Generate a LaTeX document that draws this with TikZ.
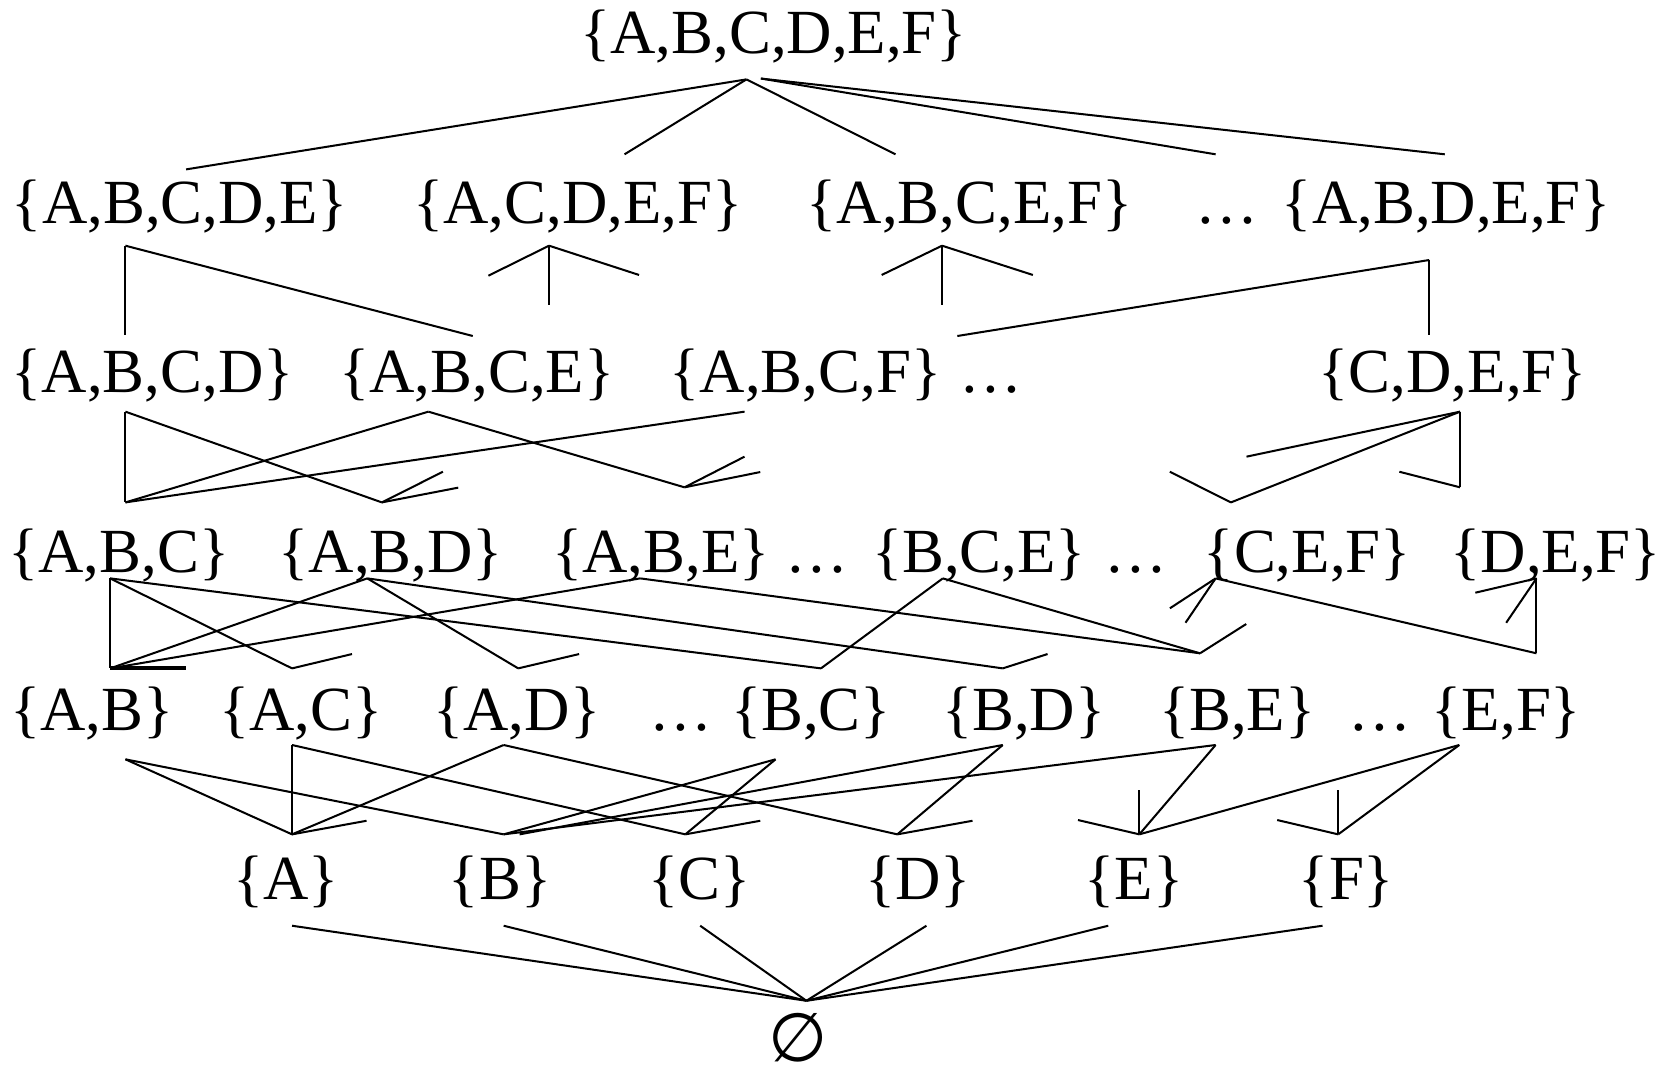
\documentclass[tikz,border=0pt]{standalone}
\usepackage{fontspec}
\setmainfont{Liberation Serif}
\newfontfamily\symfam{DejaVu Sans}
\begin{document}
\begin{tikzpicture}[x=0.5pt,y=-0.5pt,
  lbl/.style={anchor=base,inner sep=0pt,font=\fontsize{29.6}{36}\selectfont},
  ln/.style={line width=0.95pt},
  thk/.style={line width=1.9pt}]
\useasboundingbox (0,0) rectangle (1568,1009);
% ---- labels ----
\node[lbl] (s0) at (729,50) {\{A,B,C,D,E,F\}};
\node[lbl] (s1a) at (169.6,211) {\{A,B,C,D,E\}};
\node[lbl] (s1b) at (544.4,211) {\{A,C,D,E,F\}};
\node[lbl] (s1c) at (913.6,211) {\{A,B,C,E,F\}};
\node[lbl] (s1d) at (1156.5,211) {…};
\node[lbl] (s1e) at (1363,211) {\{A,B,D,E,F\}};
\node[lbl] (s2a) at (143.9,370) {\{A,B,C,D\}};
\node[lbl] (s2b) at (449.4,370) {\{A,B,C,E\}};
\node[lbl] (s2c) at (759,370) {\{A,B,C,F\}};
\node[lbl] (s2d) at (933.8,370) {…};
\node[lbl] (s2f) at (1369,370) {\{C,D,E,F\}};
\node[lbl] (s3a) at (112,539) {\{A,B,C\}};
\node[lbl] (s3b) at (368.4,539) {\{A,B,D\}};
\node[lbl] (s3c) at (622.8,539) {\{A,B,E\}};
\node[lbl] (s3d) at (770.2,539) {…};
\node[lbl] (s3e) at (922.5,539) {\{B,C,E\}};
\node[lbl] (s3f) at (1070,539) {…};
\node[lbl] (s3g) at (1231.9,539) {\{C,E,F\}};
\node[lbl] (s3h) at (1466,539) {\{D,E,F\}};
\node[lbl] (s4a) at (86.5,688.5) {\{A,B\}};
\node[lbl] (s4b) at (283.6,688.5) {\{A,C\}};
\node[lbl] (s4c) at (487,688.5) {\{A,D\}};
\node[lbl] (s4d) at (641.7,688.5) {…};
\node[lbl] (s4e) at (764.2,688.5) {\{B,C\}};
\node[lbl] (s4f) at (964.6,688.5) {\{B,D\}};
\node[lbl] (s4g) at (1165.9,688.5) {\{B,E\}};
\node[lbl] (s4x) at (1300.4,688.5) {…};
\node[lbl] (s4h) at (1419.5,688.5) {\{E,F\}};
\node[lbl] (s5a) at (269.8,848) {\{A\}};
\node[lbl] (s5b) at (471.2,848) {\{B\}};
\node[lbl] (s5c) at (658.8,848) {\{C\}};
\node[lbl] (s5d) at (865.2,848) {\{D\}};
\node[lbl] (s5e) at (1068.7,848) {\{E\}};
\node[lbl] (s5f) at (1268.8,848) {\{F\}};
\node[lbl,font=\symfam\fontsize{32}{36}\selectfont] (s6) at (752.2,1000) {∅};
% ---- connector points ----
\coordinate (t1) at (703.4,74.8);
\coordinate (t2) at (717,74);
\coordinate (u1a) at (175.4,159.6);
\coordinate (u1b) at (588.5,145.4);
\coordinate (u1c) at (843.8,145.4);
\coordinate (u1d) at (1145.5,145.4);
\coordinate (u1e) at (1361.4,145.4);
\coordinate (b1a) at (118.2,231.5);
\coordinate (b1b) at (517.4,231.5);
\coordinate (b1c) at (887.7,231.5);
\coordinate (b1e) at (1346.7,245);
\coordinate (u2a) at (118.2,315.7);
\coordinate (u2b) at (445.5,316.6);
\coordinate (v1b) at (517.4,287.4);
\coordinate (w1bl) at (460.2,259.8);
\coordinate (w1br) at (602.2,259.1);
\coordinate (v1c) at (887.7,287.4);
\coordinate (w1cl) at (830.8,259.1);
\coordinate (w1cr) at (973.3,259.1);
\coordinate (u2c) at (902.1,316.6);
\coordinate (u2f) at (1346.7,315.7);
\coordinate (b2a) at (118.2,387.9);
\coordinate (b2b) at (403.7,387.9);
\coordinate (b2c) at (701.6,387.9);
\coordinate (b2f) at (1375.8,387.9);
\coordinate (c3a) at (118.2,473.4);
\coordinate (c3b) at (359.8,473.4);
\coordinate (c3c) at (645,459.2);
\coordinate (c3g) at (1159.9,473.4);
\coordinate (c3h) at (1375.8,459.2);
\coordinate (w3b1) at (417.4,444.5);
\coordinate (w3b2) at (431.8,459.5);
\coordinate (w3c1) at (701.6,430.3);
\coordinate (w3c2) at (716.4,444.8);
\coordinate (w2f) at (1174.6,430.3);
\coordinate (w3g) at (1102.3,444.5);
\coordinate (w3h) at (1318.6,444.5);
\coordinate (b3a) at (103.8,545);
\coordinate (b3b) at (346.1,545);
\coordinate (b3c) at (603.3,545);
\coordinate (b3e) at (888.4,545);
\coordinate (b3g) at (1145.5,545);
\coordinate (b3h) at (1447.8,545);
\coordinate (c4a) at (103.8,629.8);
\coordinate (c4aa) at (175.4,629.8);
\coordinate (c4b) at (275.2,629.8);
\coordinate (c4c) at (488.3,629.8);
\coordinate (c4e) at (773.6,629.8);
\coordinate (c4f) at (944.9,629.8);
\coordinate (c4g) at (1130.8,615.6);
\coordinate (c4h) at (1447.8,615.6);
\coordinate (w4b) at (331.7,616.3);
\coordinate (w4c) at (545.7,616.3);
\coordinate (w4f) at (987.1,616.3);
\coordinate (w4g) at (1174.3,588);
\coordinate (w3g1) at (1102.4,573.2);
\coordinate (w3g2) at (1117.1,586.8);
\coordinate (w3h1) at (1390.2,558.5);
\coordinate (w3h2) at (1419.3,586.8);
\coordinate (b4a) at (118.2,715.5);
\coordinate (b4b) at (275.2,702);
\coordinate (b4c) at (474.6,702);
\coordinate (b4e) at (730.8,715.5);
\coordinate (b4f) at (944.9,702);
\coordinate (b4g) at (1145.5,702);
\coordinate (b4h) at (1375.1,702);
\coordinate (c5a) at (275.2,786.2);
\coordinate (c5b) at (474.6,786.2);
\coordinate (c5bb) at (489.6,786.2);
\coordinate (c5c) at (645.8,786.2);
\coordinate (c5d) at (845.5,786.2);
\coordinate (c5e) at (1073.6,786.2);
\coordinate (c5f) at (1261,786.2);
\coordinate (w5a) at (345.4,773.4);
\coordinate (w5c) at (716.4,773.4);
\coordinate (w5d) at (916.4,773.4);
\coordinate (w5e1) at (1073.6,744.4);
\coordinate (w5e2) at (1015.8,772.7);
\coordinate (w5f1) at (1261,744.4);
\coordinate (w5f2) at (1203.5,772.7);
\coordinate (b5a) at (275.2,872.3);
\coordinate (b5b) at (474.6,872.3);
\coordinate (b5c) at (659.8,872.3);
\coordinate (b5d) at (873,872.3);
\coordinate (b5e) at (1044.3,872.3);
\coordinate (b5f) at (1246.2,872.3);
\coordinate (e0) at (759.9,943);
% ---- connectors ----
\draw[ln] (t1) -- (u1a);
\draw[ln] (t1) -- (u1b);
\draw[ln] (t1) -- (u1c);
\draw[ln] (t2) -- (u1d);
\draw[ln] (t2) -- (u1e);
\draw[ln] (b1a) -- (u2a);
\draw[ln] (b1a) -- (u2b);
\draw[ln] (b1b) -- (v1b);
\draw[ln] (b1b) -- (w1bl);
\draw[ln] (b1b) -- (w1br);
\draw[ln] (b1c) -- (v1c);
\draw[ln] (b1c) -- (w1cl);
\draw[ln] (b1c) -- (w1cr);
\draw[ln] (b1e) -- (u2c);
\draw[ln] (b1e) -- (u2f);
\draw[ln] (b2a) -- (c3a);
\draw[ln] (b2a) -- (c3b);
\draw[ln] (b2b) -- (c3a);
\draw[ln] (b2b) -- (c3c);
\draw[ln] (b2c) -- (c3a);
\draw[ln] (c3b) -- (w3b1);
\draw[ln] (c3b) -- (w3b2);
\draw[ln] (c3c) -- (w3c1);
\draw[ln] (c3c) -- (w3c2);
\draw[ln] (b2f) -- (w2f);
\draw[ln] (b2f) -- (c3g);
\draw[ln] (b2f) -- (c3h);
\draw[ln] (c3g) -- (w3g);
\draw[ln] (c3h) -- (w3h);
\draw[ln] (b3a) -- (c4a);
\draw[thk] (c4a) -- (c4aa);
\draw[ln] (b3a) -- (c4b);
\draw[ln] (b3a) -- (c4e);
\draw[ln] (c4b) -- (w4b);
\draw[ln] (b3b) -- (c4a);
\draw[ln] (b3b) -- (c4c);
\draw[ln] (b3b) -- (c4f);
\draw[ln] (c4c) -- (w4c);
\draw[ln] (c4f) -- (w4f);
\draw[ln] (b3c) -- (c4a);
\draw[ln] (b3c) -- (c4g);
\draw[ln] (b3e) -- (c4e);
\draw[ln] (b3e) -- (c4g);
\draw[ln] (c4g) -- (w4g);
\draw[ln] (b3g) -- (w3g1);
\draw[ln] (b3g) -- (w3g2);
\draw[ln] (b3g) -- (c4h);
\draw[ln] (b3h) -- (c4h);
\draw[ln] (b3h) -- (w3h1);
\draw[ln] (b3h) -- (w3h2);
\draw[ln] (b4a) -- (c5a);
\draw[ln] (b4a) -- (c5b);
\draw[ln] (b4b) -- (c5a);
\draw[ln] (b4b) -- (c5c);
\draw[ln] (b4c) -- (c5a);
\draw[ln] (b4c) -- (c5d);
\draw[ln] (c5a) -- (w5a);
\draw[ln] (b4e) -- (c5b);
\draw[ln] (b4e) -- (c5c);
\draw[ln] (b4f) -- (c5bb);
\draw[ln] (b4f) -- (c5d);
\draw[ln] (b4g) -- (c5b);
\draw[ln] (b4g) -- (c5e);
\draw[ln] (b4h) -- (c5e);
\draw[ln] (b4h) -- (c5f);
\draw[ln] (c5c) -- (w5c);
\draw[ln] (c5d) -- (w5d);
\draw[ln] (c5e) -- (w5e1);
\draw[ln] (c5e) -- (w5e2);
\draw[ln] (c5f) -- (w5f1);
\draw[ln] (c5f) -- (w5f2);
\draw[ln] (e0) -- (b5a);
\draw[ln] (e0) -- (b5b);
\draw[ln] (e0) -- (b5c);
\draw[ln] (e0) -- (b5d);
\draw[ln] (e0) -- (b5e);
\draw[ln] (e0) -- (b5f);
\end{tikzpicture}
\end{document}
